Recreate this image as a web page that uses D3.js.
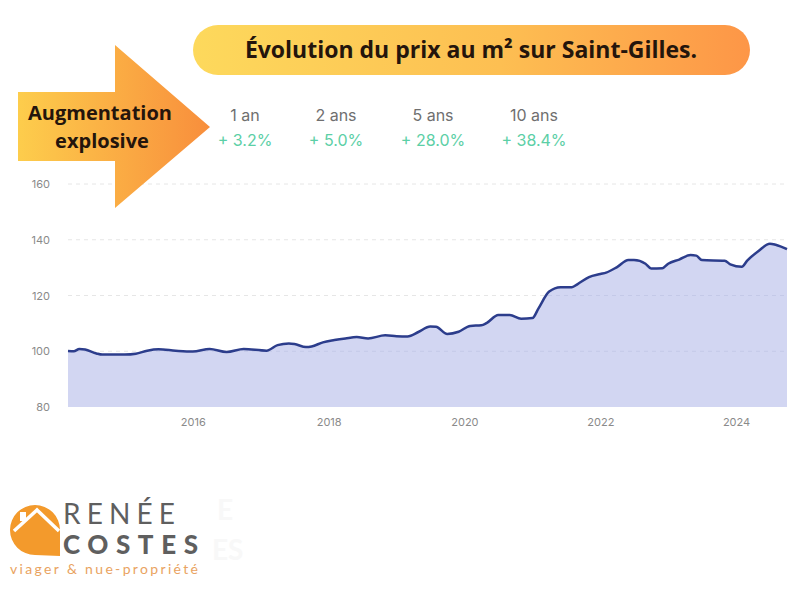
<!DOCTYPE html>
<html>
<head>
<meta charset="utf-8">
<script src="https://cdn.jsdelivr.net/npm/d3@7"></script>
<style>
  body { margin: 0; background: #fff; }
  svg { display: block; }
</style>
</head>
<body>
<script>
// Data (price index, base ~100 in early 2014)
var months = ["2014-03","2014-04","2014-05","2014-06","2014-08","2014-09","2015-01","2015-03","2015-05","2015-07",
  "2015-10","2016-01","2016-04","2016-07","2016-10","2017-02","2017-04","2017-06","2017-07","2017-09",
  "2017-10","2017-12","2018-02","2018-04","2018-06","2018-08","2018-11","2019-01","2019-03","2019-05",
  "2019-07","2019-08","2019-10","2019-12","2020-02","2020-04","2020-05","2020-07","2020-09","2020-11",
  "2021-01","2021-02","2021-04","2021-06","2021-08","2021-09","2021-11","2022-01","2022-02","2022-04",
  "2022-06","2022-07","2022-09","2022-10","2022-12","2023-01","2023-03","2023-05","2023-06",
  "2023-07","2023-11","2023-12","2024-02","2024-03","2024-05","2024-07","2024-08","2024-10"];
var values = [100.1,100.0,100.8,100.6,99.2,98.8,98.8,99.1,100.2,100.7,
  100.2,99.9,100.8,99.7,100.8,100.2,102.2,102.8,102.6,101.5,
  101.7,103.2,104.0,104.6,105.1,104.6,105.7,105.4,105.3,107.0,
  108.9,108.8,106.2,107.0,109.1,109.3,110.2,113.0,113.0,111.7,
  111.9,115.2,121.4,123.0,123.0,124.1,126.6,127.7,128.2,130.2,
  132.7,132.7,131.4,129.7,129.8,131.4,132.9,134.5,134.3,
  132.7,132.5,131.2,130.3,132.5,136.0,138.6,138.2,136.6];

var yTicks = [80, 100, 120, 140, 160];
var xTickYears = [2016, 2018, 2020, 2022, 2024];

var periods = ["1 an", "2 ans", "5 ans", "10 ans"];
var changes = ["+ 3.2%", "+ 5.0%", "+ 28.0%", "+ 38.4%"];

var parseMonth = d3.timeParse("%Y-%m");
var data = months.map(function(m, i) { return { date: parseMonth(m), value: values[i] }; });

var svg = d3.select("body").append("svg").attr("width", 800).attr("height", 600);
var defs = svg.append("defs");

// Scales
var x = d3.scaleTime()
    .domain([new Date(2014, 2, 1), new Date(2024, 9, 1)])
    .range([68, 787]);
var y = d3.scaleLinear().domain([80, 160]).range([407, 184]);

// Gridlines (dashed)
svg.append("g").selectAll("line")
    .data(yTicks.filter(function(t) { return t > 80; }))
    .enter().append("line")
    .attr("x1", 68).attr("x2", 787)
    .attr("y1", function(d) { return y(d); })
    .attr("y2", function(d) { return y(d); })
    .attr("stroke", "#e6e6e6")
    .attr("stroke-dasharray", "4,4");

// Area + line
var area = d3.area()
    .x(function(d) { return x(d.date); })
    .y0(y(80))
    .y1(function(d) { return y(d.value); })
    .curve(d3.curveMonotoneX);
var line = d3.line()
    .x(function(d) { return x(d.date); })
    .y(function(d) { return y(d.value); })
    .curve(d3.curveMonotoneX);

svg.append("path").datum(data).attr("d", area).attr("fill", "#d2d6f2");
// grid lines showing through the area
svg.append("g").selectAll("line")
    .data([100, 120]).enter().append("line")
    .attr("x1", 68).attr("x2", 787)
    .attr("y1", function(d) { return y(d); }).attr("y2", function(d) { return y(d); })
    .attr("stroke", "#c4c9e8").attr("stroke-dasharray", "4,4")
    .attr("clip-path", "url(#areaClip)");
defs.append("clipPath").attr("id", "areaClip")
    .append("path").datum(data).attr("d", area);
svg.append("path").datum(data).attr("d", line)
    .attr("fill", "none").attr("stroke", "#2c3d8c").attr("stroke-width", 2.5)
    .attr("stroke-linejoin", "round");

// Y axis labels
var yAxis = svg.append("g")
    .attr("transform", "translate(50,0)")
    .call(d3.axisLeft(y).tickValues(yTicks).tickSize(0).tickPadding(0));
yAxis.select(".domain").remove();
yAxis.selectAll("text").attr("fill", "#8a8a8a").attr("font-size", "11px")
    .attr("font-family", "Inter, 'Noto Sans', sans-serif");

// X axis labels
var xAxis = svg.append("g")
    .attr("transform", "translate(0,418)")
    .call(d3.axisBottom(x)
        .tickValues(xTickYears.map(function(yr) { return new Date(yr, 0, 1); }))
        .tickFormat(d3.timeFormat("%Y")).tickSize(0).tickPadding(0));
xAxis.select(".domain").remove();
xAxis.selectAll("text").attr("fill", "#8a8a8a").attr("font-size", "11px")
    .attr("font-family", "Inter, 'Noto Sans', sans-serif");

// Title banner
var tg = defs.append("linearGradient").attr("id", "titleGrad");
tg.append("stop").attr("offset", "0%").attr("stop-color", "#fdd95c");
tg.append("stop").attr("offset", "55%").attr("stop-color", "#fdbf52");
tg.append("stop").attr("offset", "100%").attr("stop-color", "#fd9647");
svg.append("rect")
    .attr("x", 193).attr("y", 25).attr("width", 557).attr("height", 50)
    .attr("rx", 25).attr("fill", "url(#titleGrad)");
svg.append("text")
    .attr("x", 471).attr("y", 58)
    .attr("text-anchor", "middle")
    .attr("font-family", "'Open Sans', 'Noto Sans', sans-serif")
    .attr("font-weight", 700).attr("font-size", "23px")
    .attr("fill", "#24150c")
    .text("Évolution du prix au m² sur Saint-Gilles.");

// Arrow
var ag = defs.append("linearGradient").attr("id", "arrowGrad");
ag.append("stop").attr("offset", "0%").attr("stop-color", "#fdcd4c");
ag.append("stop").attr("offset", "100%").attr("stop-color", "#f88e3c");
svg.append("path")
    .attr("d", "M18,92 L115,92 L115,45 L210,127 L115,208 L115,161 L18,161 Z")
    .attr("fill", "url(#arrowGrad)");
var arrowText = svg.append("text")
    .attr("text-anchor", "middle")
    .attr("font-family", "'Open Sans', 'Noto Sans', sans-serif")
    .attr("font-weight", 700).attr("font-size", "20px")
    .attr("fill", "#24150c");
arrowText.append("tspan").attr("x", 100).attr("y", 120).text("Augmentation");
arrowText.append("tspan").attr("x", 102).attr("y", 148).text("explosive");

// Stats
var statX = [245, 336, 433, 534];
svg.append("g").selectAll("text").data(periods).enter().append("text")
    .attr("x", function(d, i) { return statX[i]; })
    .attr("y", 121)
    .attr("text-anchor", "middle")
    .attr("font-family", "Inter, 'Noto Sans', sans-serif")
    .attr("font-size", "16px").attr("fill", "#6f6f6f")
    .text(function(d) { return d; });
svg.append("g").selectAll("text").data(changes).enter().append("text")
    .attr("x", function(d, i) { return statX[i]; })
    .attr("y", 146)
    .attr("text-anchor", "middle")
    .attr("font-family", "Inter, 'Noto Sans', sans-serif")
    .attr("font-size", "16px").attr("fill", "#5ccfa6")
    .text(function(d) { return d; });

// Faint watermark
var wm = svg.append("g").attr("font-family", "Lato, sans-serif").attr("font-size", "28px")
    .attr("fill", "#f8f8f8").attr("font-weight", 700);
wm.append("text").attr("x", 217).attr("y", 520).text("E");
wm.append("text").attr("x", 212).attr("y", 560).text("ES");

// Logo
var logo = svg.append("g");
logo.append("path")
    .attr("d", "M35,505 A25,25 0 0 0 10,530 A25,25 0 0 0 35,555 L60,556 L60,530 A25,25 0 0 0 35,505 Z")
    .attr("fill", "#f39a2c");
logo.append("rect").attr("x", 20).attr("y", 512).attr("width", 6).attr("height", 9).attr("fill", "#fff");
logo.append("path")
    .attr("d", "M14,531 L37,510 L59,531")
    .attr("fill", "none").attr("stroke", "#fff").attr("stroke-width", 3.5);
logo.append("text").attr("x", 63).attr("y", 524)
    .attr("font-family", "Lato, 'Noto Sans', sans-serif").attr("font-size", "28px")
    .attr("fill", "#5f5f5f").attr("textLength", 112).text("RENÉE");
logo.append("text").attr("x", 63).attr("y", 554)
    .attr("font-family", "Lato, 'Noto Sans', sans-serif").attr("font-weight", 900).attr("font-size", "26px")
    .attr("fill", "#5f5f5f").attr("textLength", 135).text("COSTES");
logo.append("text").attr("x", 10).attr("y", 574)
    .attr("font-family", "Lato, 'Noto Sans', sans-serif").attr("font-size", "14px")
    .attr("fill", "#e9a361").attr("textLength", 188).text("viager & nue-propriété");
</script>
</body>
</html>
